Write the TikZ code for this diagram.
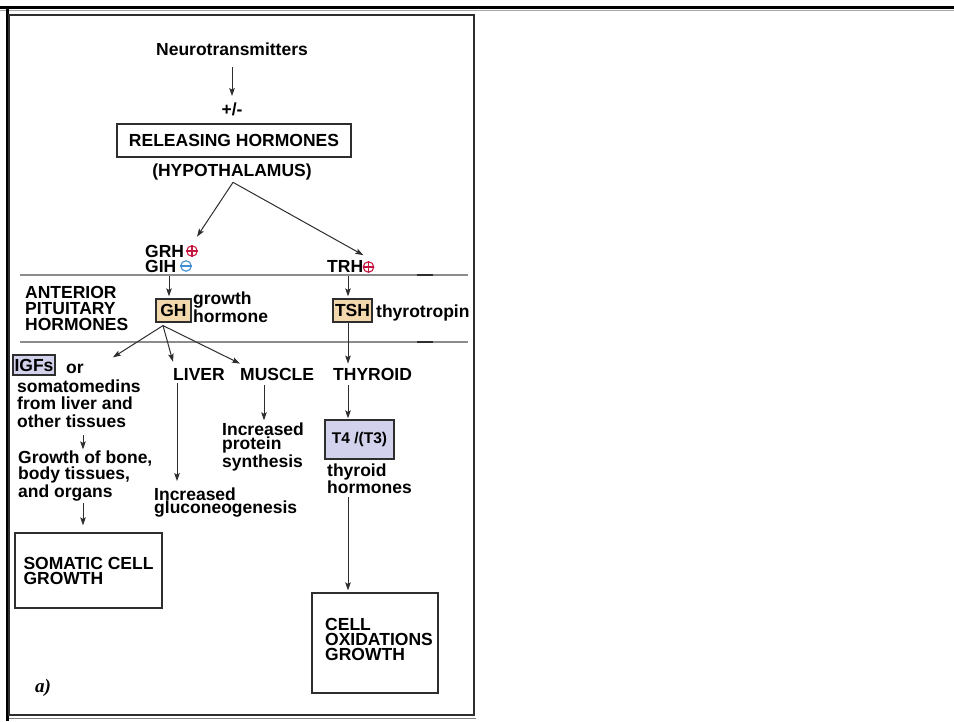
\documentclass[tikz,border=0pt]{standalone}
\usepackage{fontspec}
\setmainfont{Liberation Sans}
\newfontfamily\serifbi{Liberation Serif}
\usetikzlibrary{arrows.meta,calc}
\definecolor{linec}{HTML}{2E2E2E}
\definecolor{divc}{HTML}{8C8C8C}
\definecolor{tanc}{HTML}{F2D8AC}
\definecolor{lavc}{HTML}{D2D2EC}
\definecolor{plusred}{HTML}{C4163F}
\definecolor{minblue}{HTML}{3F8ED6}
\begin{document}
\begin{tikzpicture}[x=1pt,y=-1pt,
  txt/.style={inner sep=0pt, font=\fontsize{17.5}{15}\selectfont\bfseries},
  blk/.style={inner sep=0pt, align=left, anchor=base west, font=\fontsize{17.5}{#1}\selectfont\bfseries},
  blk/.default=15,
  hbox/.style={draw=linec, line width=1.2pt, inner sep=0pt, font=\fontsize{17.5}{15}\selectfont\bfseries},
  arr/.style={draw=linec, line width=1pt, -{Stealth[length=8pt,width=5.5pt,inset=1.5pt]}},
  sgn/.style={circle, draw=#1, fill=white, line width=1.1pt, minimum size=10.5pt, inner sep=0pt}]
\useasboundingbox (0,0) rectangle (954,721);
\fill[white] (0,0) rectangle (954,721);
% frame
\draw[black, line width=3pt] (0,7) -- (954,7);
\draw[gray!70, line width=1pt] (0,10.5) -- (954,10.5);
\draw[black, line width=3pt] (7,7) -- (7,721);
\draw[linec, line width=1.3pt] (9,15) rectangle (474,715);
\draw[gray, line width=1pt] (9,718.5) -- (476,718.5);
% dividers
\draw[divc, line width=1.2pt] (20,275) -- (468,275);
\draw[divc, line width=1.2pt] (20,342) -- (468,342);
\draw[linec, line width=1.6pt] (417,275) -- (433,275);
\draw[linec, line width=1.6pt] (417,342) -- (433,342);
% nodes
\node[txt, anchor=base] (neuro) at (232,55) {Neurotransmitters};
\node[txt, anchor=base] (pm) at (232,115) {+/-};
\node[hbox, minimum width=234pt, minimum height=33pt] (rel) at (234,140.5) {RELEASING HORMONES};
\node[txt, anchor=base] (hypo) at (232,176) {(HYPOTHALAMUS)};
\node[txt, anchor=base west] (grh) at (145,257) {GRH};
\node[sgn=plusred] (grhs) at (192,251) {};
\node[txt, anchor=base west] (gih) at (145,272) {GIH};
\node[sgn=minblue] (gihs) at (186,266) {};
\node[txt, anchor=base west] (trh) at (327,272) {TRH};
\node[sgn=plusred] (trhs) at (368.5,267) {};
\draw[plusred, line width=1.1pt] (grhs.west) -- (grhs.east) (grhs.north) -- (grhs.south);
\draw[minblue, line width=1.1pt] (gihs.west) -- (gihs.east);
\draw[plusred, line width=1.1pt] (trhs.west) -- (trhs.east) (trhs.north) -- (trhs.south);
\node[blk=16] (ant) at (25,330) {ANTERIOR\\PITUITARY\\HORMONES};
\node[hbox, fill=tanc, minimum width=35pt, minimum height=23pt] (gh) at (173.5,310.5) {GH};
\node[blk=15] (ghl) at (193,322) {growth\\hormone};
\node[hbox, fill=tanc, minimum width=39pt, minimum height=23pt] (tsh) at (352.5,310.5) {TSH};
\node[txt, anchor=base west] (thyro) at (376,317) {thyrotropin};
\node[hbox, fill=lavc, minimum width=42pt, minimum height=20pt] (igf) at (34,365) {IGFs};
\node[txt, anchor=base west] (or) at (66,373) {or};
\node[txt, anchor=base west] (liver) at (173,380) {LIVER};
\node[txt, anchor=base west] (muscle) at (240,380) {MUSCLE};
\node[txt, anchor=base west] (thyroid) at (333,380) {THYROID};
\node[blk=17.5] (soma) at (17,427) {somatomedins\\from liver and\\other tissues};
\node[blk=15] (growth) at (18,497) {Growth of bone,\\body tissues,\\and organs};
\node[hbox, minimum width=147pt, minimum height=75pt, align=left] (somatic) at (88.5,570.5) {SOMATIC CELL\\GROWTH};
\node[blk=13.5] (gluco) at (154,513.5) {Increased\\gluconeogenesis};
\node[blk=14.5] (prot) at (222,467) {Increased\\protein\\synthesis};
\node[hbox, fill=lavc, minimum width=69pt, minimum height=39pt, font=\fontsize{15.5}{16}\selectfont\bfseries] (t4) at (359.5,439.5) {T4 /(T3)};
\node[blk=13.5] (thh) at (327,493.5) {thyroid\\hormones};
\node[draw=linec, line width=1.2pt, minimum width=126pt, minimum height=100pt, inner sep=0pt] (cellbox) at (375,643) {};
\node[blk=15] (celltxt) at (325,660) {CELL\\OXIDATIONS\\GROWTH};
\node[inner sep=0pt, anchor=base west, font=\fontsize{19}{19}\selectfont\serifbi\bfseries\itshape] (lbl) at (35,692) {a)};
% connectors
\draw[arr] ($(neuro.south)+(0,12)$) -- ($(pm.north)+(0,-6)$);
\draw[arr] ($(hypo.south)+(1,2.5)$) -- ($(grhs.north)+(5,-8.5)$);
\draw[arr] ($(hypo.south)+(1,2.5)$) -- ($(trh.north east)+(0,-4.6)$);
\draw[arr] ($(gh.north)+(-4.5,-22)$) -- ($(gh.north)+(-4.5,-2)$);
\draw[arr] ($(tsh.north)+(-4.5,-22)$) -- ($(tsh.north)+(-4.5,-2)$);
\draw[arr] ($(gh.south)+(-10.5,3)$) -- ($(or.north east)+(29,-6)$);
\draw[arr] ($(gh.south)+(-10.5,3)$) -- ($(liver.north west)+(0,-6)$);
\draw[arr] ($(gh.south)+(-10.5,3)$) -- ($(muscle.north west)+(0,-4)$);
\draw[arr] ($(tsh.south)+(-4.5,0)$) -- ($(thyroid.north west)+(15,-4)$);
\draw[arr] ($(liver.south west)+(4,3)$) -- ($(gluco.north west)+(23,-6)$);
\draw[arr] ($(muscle.south west)+(24,5)$) -- ($(prot.north west)+(42,-2)$);
\draw[arr] ($(thyroid.south west)+(15,5)$) -- ($(t4.north)+(-11.5,-1)$);
\draw[arr] ($(thh.south west)+(21,3.5)$) -- ($(cellbox.north)+(-27,-2)$);
\draw[arr] ($(soma.south west)+(66,8)$) -- ($(growth.north west)+(65,-1)$);
\draw[arr] ($(growth.south west)+(65,2.4)$) -- ($(somatic.north)+(-5.5,-7)$);
\end{tikzpicture}
\end{document}
